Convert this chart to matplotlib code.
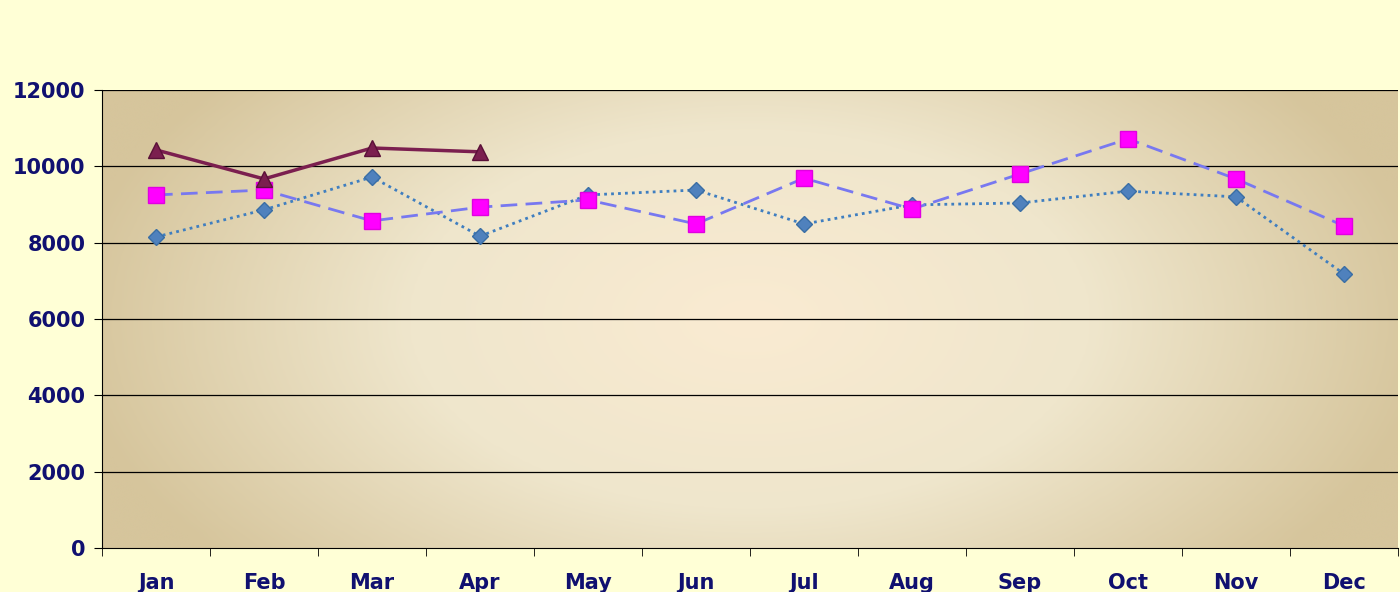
import matplotlib
matplotlib.use("Agg")
import matplotlib.pyplot as plt
import numpy as np
from matplotlib.colors import LinearSegmentedColormap

months = ["Jan","Feb","Mar","Apr","May","Jun","Jul","Aug","Sep","Oct","Nov","Dec"]
s2023 = [8150, 8860, 9720, 8170, 9250, 9380, 8490, 8990, 9040, 9350, 9200, 7180]
s2024 = [9250, 9380, 8570, 8930, 9120, 8490, 9690, 8880, 9800, 10720, 9670, 8440]
s2025 = [10430, 9670, 10480, 10380]

fig = plt.figure(figsize=(14, 5.92), dpi=100)
fig.patch.set_facecolor("#FFFFD6")
ax = fig.add_axes([102/1400, 44/592, 1296/1400, 458/592])
ax.set_facecolor("#FFFFD6")

xx, yy = np.meshgrid(np.linspace(-1, 1, 400), np.linspace(-1, 1, 200))
r = np.clip(np.sqrt((xx*0.95)**2 + (yy*0.6)**2), 0, 1)
cmap = LinearSegmentedColormap.from_list("g", ["#FAEBD2", "#EFE6CC", "#D6C59C"])
ax.imshow(r, extent=[-0.5, 11.5, 0, 12000], aspect="auto", cmap=cmap,
          origin="lower", zorder=0, interpolation="bicubic")

ax.set_xlim(-0.5, 11.5)
ax.set_ylim(0, 12000)
ax.set_yticks(range(0, 12001, 2000))
for y in range(2000, 12001, 2000):
    ax.axhline(y, color="black", lw=0.9, zorder=1)

x = np.arange(12)
l1, = ax.plot(x, s2023, color="#3F7EC0", ls=(0, (1, 1.5)), lw=2, marker="D", ms=8,
        mfc="#4F81BD", mec="#3A6EA5", label="2023", zorder=3)
l2, = ax.plot(x, s2024, color="#7878F0", ls=(0, (6, 3)), lw=2, marker="s", ms=11,
        mfc="#FF00FF", mec="#E000E0", label="2024", zorder=3)
l3, = ax.plot(np.arange(len(s2025)), s2025, color="#7B1F4F", lw=2.5, marker="^", ms=11,
        mfc="#7B1F4F", mec="#5A1038", label="2025", zorder=4)

ax.set_xticks(x)
ax.set_xticklabels(months)
ax.set_xticks(np.arange(-0.5, 12, 1), minor=True)
ax.tick_params(axis="x", which="major", length=0, pad=18)
ax.tick_params(axis="x", which="minor", length=6, color="black")
ax.tick_params(axis="y", length=6, pad=6)
for lab in ax.get_xticklabels() + ax.get_yticklabels():
    lab.set_fontweight("bold"); lab.set_fontsize(15); lab.set_color("#101070")
for s in ["top", "right"]:
    ax.spines[s].set_visible(False)

leg = fig.legend([l1, l3, l2], ["2023", "2025", "2024"], loc="upper left",
                 bbox_to_anchor=(1117/1400, 1.0, 283/1400, 80/592), mode="expand",
                 ncol=2, frameon=True, fancybox=False, edgecolor="black",
                 prop={"weight": "bold", "size": 11, "family": "Liberation Serif"},
                 handlelength=4.5, columnspacing=1.0, borderpad=0.5, labelspacing=1.3,
                 borderaxespad=0)
leg.get_frame().set_facecolor("white")
for t in leg.get_texts():
    t.set_color("#101070")

fig.savefig("out.png", dpi=100)
